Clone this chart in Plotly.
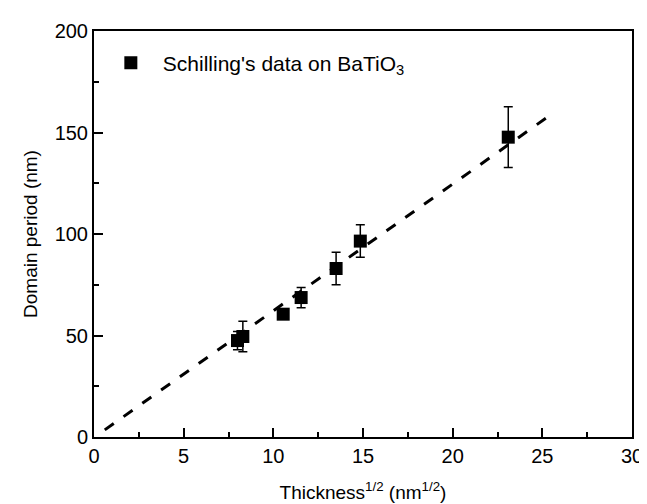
import plotly.graph_objects as go

# data
thickness_sqrt = [8.0, 8.3, 10.55, 11.55, 13.5, 14.85, 23.1]
domain_period = [47.5, 49.5, 60.5, 68.7, 83.0, 96.5, 147.7]
period_err = [4.5, 7.5, 2.0, 5.0, 8.0, 8.0, 15.0]

fit_x = [0.6, 25.4]
fit_y = [3.5, 158.3]

FONT = "Arial, Liberation Sans, sans-serif"

fig = go.Figure()

fig.add_trace(go.Scatter(
    x=fit_x, y=fit_y, mode="lines",
    line=dict(color="black", width=3, dash="11px,12px"),
    showlegend=False, hoverinfo="skip",
))

fig.add_trace(go.Scatter(
    x=thickness_sqrt, y=domain_period, mode="markers",
    name="Schilling's data on BaTiO<sub>3</sub>",
    marker=dict(symbol="square", size=13, color="black"),
    error_y=dict(type="data", array=period_err, visible=True,
                 color="black", thickness=1.5, width=4.5),
))

fig.update_layout(
    width=647, height=504,
    margin=dict(l=86, r=12, t=18, b=67),
    paper_bgcolor="white", plot_bgcolor="white",
    font=dict(family=FONT, size=19, color="black"),
    showlegend=True,
    legend=dict(x=0.009, y=0.921, xanchor="left", yanchor="middle",
                bgcolor="rgba(0,0,0,0)", font=dict(size=21),
                itemwidth=54),
    xaxis=dict(
        range=[0, 30], tickmode="array", tickvals=[0, 5, 10, 15, 20, 25, 30],
        ticks="inside", ticklen=9, tickwidth=2, tickcolor="black",
        minor=dict(tickvals=[2.5, 7.5, 12.5, 17.5, 22.5, 27.5], ticks="inside",
                   ticklen=5, tickwidth=2, tickcolor="black"),
        showline=True, linewidth=2, linecolor="black", mirror=True,
        showgrid=False, zeroline=False,
        title=dict(text="Thickness<sup>1/2</sup> (nm<sup>1/2</sup>)",
                   font=dict(size=19), standoff=20),
        tickfont=dict(size=20),
    ),
    yaxis=dict(
        range=[0, 200], tickmode="array", tickvals=[0, 50, 100, 150, 200],
        ticks="inside", ticklen=9, tickwidth=2, tickcolor="black",
        minor=dict(tickvals=[25, 75, 125, 175], ticks="inside",
                   ticklen=5, tickwidth=2, tickcolor="black"),
        showline=True, linewidth=2, linecolor="black", mirror=True,
        showgrid=False, zeroline=False,
        title=dict(text="Domain period (nm)", font=dict(size=19), standoff=12),
        tickfont=dict(size=20),
    ),
)

fig.write_html("out.html")
